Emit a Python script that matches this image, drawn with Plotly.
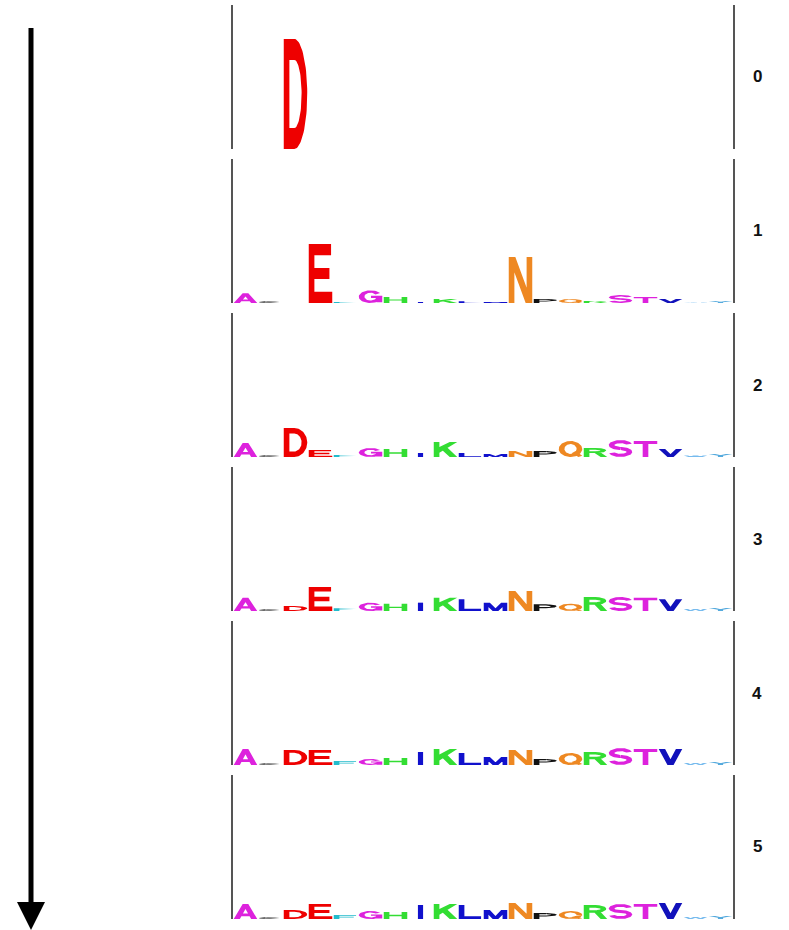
import numpy as np
import plotly.graph_objects as go
from plotly.subplots import make_subplots

# ---------------- data ----------------
letters = ["A", "C", "D", "E", "F", "G", "H", "I", "K", "L",
           "M", "N", "P", "Q", "R", "S", "T", "V", "W", "Y"]
row_labels = ["0", "1", "2", "3", "4", "5"]

# letter heights (bits) for each position, in the order of `letters`
pos0 = [0, 0, 3.30, 0, 0, 0, 0, 0, 0, 0, 0, 0, 0, 0, 0, 0, 0, 0, 0, 0]
pos1 = [0.29, 0.06, 0, 1.77, 0.03, 0.38, 0.18, 0.03, 0.12, 0.05,
        0.03, 1.38, 0.12, 0.12, 0.06, 0.24, 0.18, 0.12, 0.015, 0.06]
pos2 = [0.42, 0.06, 0.87, 0.21, 0.06, 0.27, 0.24, 0.12, 0.45, 0.12,
        0.09, 0.18, 0.18, 0.48, 0.27, 0.51, 0.48, 0.24, 0.045, 0.09]
pos3 = [0.40, 0.06, 0.15, 0.72, 0.08, 0.25, 0.22, 0.25, 0.40, 0.35,
        0.25, 0.60, 0.20, 0.22, 0.42, 0.42, 0.40, 0.35, 0.06, 0.09]
pos4 = [0.48, 0.06, 0.45, 0.45, 0.12, 0.18, 0.21, 0.39, 0.48, 0.36,
        0.24, 0.45, 0.18, 0.36, 0.39, 0.51, 0.48, 0.48, 0.06, 0.09]
pos5 = [0.45, 0.06, 0.27, 0.45, 0.12, 0.24, 0.21, 0.42, 0.45, 0.42,
        0.27, 0.48, 0.18, 0.24, 0.42, 0.45, 0.45, 0.48, 0.06, 0.09]
positions = [pos0, pos1, pos2, pos3, pos4, pos5]

letter_colors = {
    "A": "#DD22DD", "C": "#222222", "D": "#EE0000", "E": "#EE0000",
    "F": "#22BBCC", "G": "#DD22DD", "H": "#33DD33", "I": "#1111CC",
    "K": "#33DD33", "L": "#1111CC", "M": "#1111CC", "N": "#EE8822",
    "P": "#111111", "Q": "#EE8822", "R": "#33DD33", "S": "#DD22DD",
    "T": "#DD22DD", "V": "#1111BB", "W": "#77BBEE", "Y": "#55AADD",
}
max_bits = 4.32

# ---------------- glyph outlines (unit box) ----------------
SW = 0.24  # vertical stem width
SH = 0.19  # horizontal bar thickness


def rect(x0, y0, x1, y1):
    return [(x0, y0), (x1, y0), (x1, y1), (x0, y1)]


def band(cx, cy, rx, ry, t0, t1, n=48):
    ts = np.radians(np.linspace(t0, t1, n))
    outer = [(cx + rx * np.cos(t), cy + ry * np.sin(t)) for t in ts]
    inner = [(cx + (rx - SW) * np.cos(t), cy + (ry - SH) * np.sin(t)) for t in ts[::-1]]
    return outer + inner


R1 = (1 + SH) / 4
GLYPHS = {
    "A": [[(0, 0), (0.26, 0), (0.62, 1), (0.38, 1)],
          [(0.74, 0), (1, 0), (0.62, 1), (0.38, 1)],
          rect(0.2, 0.18, 0.8, 0.36)],
    "C": [band(0.5, 0.5, 0.5, 0.5, 40, 320)],
    "D": [rect(0, 0, SW, 1), rect(SW, 0, 0.45, SH), rect(SW, 1 - SH, 0.45, 1),
          band(0.45, 0.5, 0.55, 0.5, -90, 90)],
    "E": [rect(0, 0, SW, 1), rect(SW, 1 - SH, 0.95, 1),
          rect(SW, 0.5 - SH / 2, 0.88, 0.5 + SH / 2), rect(SW, 0, 1, SH)],
    "F": [rect(0, 0, SW, 1), rect(SW, 1 - SH, 0.95, 1),
          rect(SW, 0.45 - SH / 2, 0.85, 0.45 + SH / 2)],
    "G": [band(0.5, 0.5, 0.5, 0.5, 35, 360), rect(1 - SW, 0.06, 1, 0.52),
          rect(0.52, 0.4, 1, 0.4 + SH * 0.9)],
    "H": [rect(0, 0, SW, 1), rect(1 - SW, 0, 1, 1),
          rect(SW, 0.5 - SH / 2, 1 - SW, 0.5 + SH / 2)],
    "I": [rect(0.39, 0, 0.61, 1)],
    "K": [rect(0, 0, SW, 1),
          [(SW, 0.28), (1, 1), (0.68, 1), (SW, 0.66)],
          [(0.33, 0.5), (0.68, 0), (1, 0), (0.54, 0.68)]],
    "L": [rect(0, 0, SW, 1), rect(SW, 0, 0.95, SH)],
    "M": [rect(0, 0, 0.2, 1), rect(0.8, 0, 1, 1),
          [(0, 1), (0.26, 1), (0.62, 0), (0.38, 0)],
          [(0.74, 1), (1, 1), (0.62, 0), (0.38, 0)]],
    "N": [rect(0, 0, SW, 1), rect(1 - SW, 0, 1, 1),
          [(0, 1), (0.28, 1), (1, 0), (0.72, 0)]],
    "P": [rect(0, 0, SW, 1), rect(SW, 1 - SH, 0.52, 1), rect(SW, 0.40, 0.52, 0.40 + SH),
          band(0.52, 0.70, 0.46, 0.30, -90, 90)],
    "Q": [band(0.5, 0.5, 0.5, 0.5, 0, 360, 90),
          [(0.55, 0.24), (0.72, 0.38), (1, 0.08), (0.84, 0)]],
    "R": [rect(0, 0, SW, 1), rect(SW, 1 - SH, 0.5, 1), rect(SW, 0.44, 0.5, 0.44 + SH),
          band(0.5, 0.72, 0.46, 0.28, -90, 90),
          [(0.43, 0.5), (0.72, 0.5), (1, 0), (0.72, 0)]],
    "S": [band(0.5, 1 - R1, 0.5, R1, 15, 270), band(0.5, R1, 0.5, R1, -165, 90)],
    "T": [rect(0, 1 - SH, 1, 1), rect(0.5 - SW / 2, 0, 0.5 + SW / 2, 1 - SH)],
    "V": [[(0, 1), (0.27, 1), (0.63, 0), (0.37, 0)],
          [(0.73, 1), (1, 1), (0.63, 0), (0.37, 0)]],
    "W": [[(0, 1), (0.18, 1), (0.36, 0), (0.2, 0)],
          [(0.41, 1), (0.59, 1), (0.36, 0), (0.2, 0)],
          [(0.41, 1), (0.59, 1), (0.8, 0), (0.64, 0)],
          [(0.82, 1), (1, 1), (0.8, 0), (0.64, 0)]],
    "Y": [[(0, 1), (0.28, 1), (0.61, 0.42), (0.39, 0.42)],
          [(0.72, 1), (1, 1), (0.61, 0.42), (0.39, 0.42)],
          rect(0.39, 0, 0.61, 0.46)],
}


def ccw(poly):
    p = np.asarray(poly, dtype=float)
    a = np.sum(p[:, 0] * np.roll(p[:, 1], -1) - np.roll(p[:, 0], -1) * p[:, 1])
    return p if a >= 0 else p[::-1]


PAD = 0.03
n_rows = len(positions)
fig = make_subplots(rows=n_rows, cols=1, shared_xaxes=True,
                    vertical_spacing=10 / 914)

for r, heights in enumerate(positions):
    for i, (let, h) in enumerate(zip(letters, heights)):
        if h <= 0:
            continue
        xs, ys = [], []
        for poly in GLYPHS[let]:
            p = ccw(poly)
            xs += list(i - 0.5 + PAD + p[:, 0] * (1 - 2 * PAD)) + [None]
            ys += list(p[:, 1] * h) + [None]
        fig.add_trace(go.Scatter(
            x=xs, y=ys, mode="lines", fill="toself",
            fillcolor=letter_colors[let], line=dict(width=0, color=letter_colors[let]),
            name=let, hoveron="fills", text=f"{let}: {h:.2f} bits",
            hoverinfo="text", showlegend=False), row=r + 1, col=1)

for r in range(n_rows):
    fig.update_yaxes(range=[0, max_bits], showline=True, mirror=True,
                     linecolor="#555555", linewidth=2, showgrid=False,
                     zeroline=False, showticklabels=False, ticks="",
                     fixedrange=True, row=r + 1, col=1)
    fig.update_xaxes(range=[-0.5, len(letters) - 0.5], visible=False,
                     showgrid=False, zeroline=False, row=r + 1, col=1)
    yref = "y domain" if r == 0 else f"y{r + 1} domain"
    fig.add_annotation(text=row_labels[r], xref="paper", x=1, xshift=24,
                       yref=yref, y=0.5, showarrow=False, xanchor="center",
                       yanchor="middle",
                       font=dict(family="Liberation Sans", size=17,
                                 color="#111111", weight="bold"))

# downward arrow on the left (decoration)
def px2paper_x(px):
    return (px - 233) / 500


def px2paper_y(py):
    return (919 - py) / 914


ax = px2paper_x(31)
fig.add_shape(type="line", xref="paper", yref="paper", x0=ax, x1=ax,
              y0=px2paper_y(28), y1=px2paper_y(905),
              line=dict(color="black", width=5))
fig.add_shape(type="path", xref="paper", yref="paper",
              path=(f"M {px2paper_x(17)} {px2paper_y(902)} "
                    f"L {px2paper_x(45)} {px2paper_y(902)} "
                    f"L {ax} {px2paper_y(930)} Z"),
              fillcolor="black", line=dict(width=0))

fig.update_layout(width=789, height=930, margin=dict(l=233, r=56, t=5, b=11),
                  paper_bgcolor="white", plot_bgcolor="white", showlegend=False)

fig.write_html("out.html")
